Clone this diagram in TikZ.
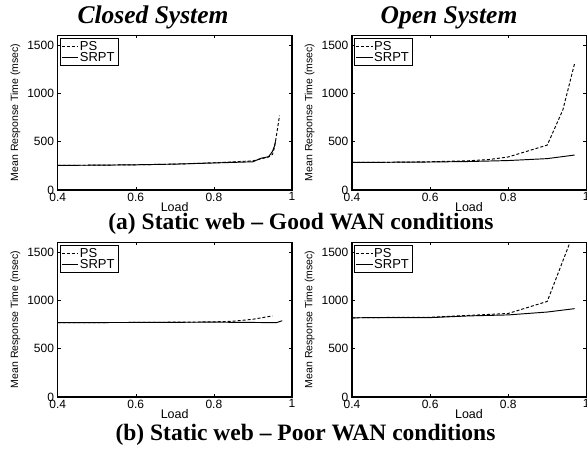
\documentclass[tikz,border=0pt]{standalone}
\usepackage{fontspec}
\setmainfont{Liberation Serif}
\setsansfont{Liberation Sans}
\newcommand\plotpanel[5]{%
  \begin{scope}
    \clip (#2,#3) rectangle ++(234.3,-154.5);
    \begin{scope}[shift={(#2-156.2,#3)}, x=390.5pt, y=0.09656pt]
      \draw[psline] plot coordinates {#4};
      \draw[srptline] plot coordinates {#5};
    \end{scope}
  \end{scope}
  \draw[axbox] (#2,#3) rectangle ++(234.3,-154.5);
  \foreach \t in {0.6,0.8} {
    \draw[tickmark] ({#2+390.5*(\t-0.4)},#3) -- ++(0,-3);
    \draw[tickmark] ({#2+390.5*(\t-0.4)},#3-154.5) -- ++(0,3);
  }
  \foreach \v in {500,1000,1500} {
    \draw[tickmark] (#2,{#3-0.09656*\v}) -- ++(3,0);
    \draw[tickmark] (#2+234.3,{#3-0.09656*\v}) -- ++(-3,0);
  }
  \foreach \t/\n in {0.4/a,0.6/b,0.8/c,1/d} {
    \node[ticklab, anchor=north] (#1x\n) at ({#2+390.5*(\t-0.4)},#3+2.5) {\t};
  }
  \foreach \v in {0,500,1000,1500} {
    \node[ticklab, anchor=east] (#1y\v) at (#2-3.5,{#3-0.09656*\v}) {\v};
  }
  \node[ylab] (#1ylab) at (#2-42.3,#3-77.5) {Mean Response Time (msec)};
  \node[xlab] (#1xlab) at (#2+117,#3+16.8) {Load};
  \draw[legbox] (#2+2.5,#3-151.7) rectangle (#2+60.5,#3-124.5);
  \draw[psline] (#2+4,#3-144) -- (#2+20.5,#3-144);
  \draw[srptline] (#2+4,#3-132.5) -- (#2+20.5,#3-132.5);
  \node[legtext] (#1lps) at (#2+22,#3-144) {PS};
  \node[legtext] (#1lsrpt) at (#2+22,#3-132.5) {SRPT};
}
\begin{document}
\begin{tikzpicture}[x=1pt,y=-1pt,
  axbox/.style={line width=1.3pt},
  tickmark/.style={line width=0.6pt},
  ticklab/.style={font=\sffamily\fontsize{12}{12}\selectfont, inner sep=0pt},
  ylab/.style={font=\sffamily\fontsize{10.5}{10.5}\selectfont, rotate=90, inner sep=0pt},
  xlab/.style={font=\sffamily\fontsize{12.5}{12.5}\selectfont, inner sep=0pt},
  legbox/.style={draw, line width=1.2pt, fill=white},
  legtext/.style={font=\sffamily\fontsize{13}{13}\selectfont, inner sep=0pt, anchor=west},
  psline/.style={line width=0.95pt, dash pattern=on 3pt off 2pt},
  srptline/.style={line width=0.95pt},
  titletext/.style={font=\fontsize{25.5}{25.5}\selectfont\bfseries\itshape, inner sep=0pt, anchor=base},
  captext/.style={font=\fontsize{23.5}{23.5}\selectfont\bfseries, inner sep=0pt, anchor=base}
]
\useasboundingbox[fill=white] (0,0) rectangle (587,457);

\node[titletext] (t1) at (153,23.3) {Closed System};
\node[titletext] (t2) at (449,23.3) {Open System};

\plotpanel{A}{57.7}{190}%
  {(0.4,255) (0.5,257) (0.6,261) (0.7,268) (0.8,282) (0.9,302) (0.92,322) (0.94,342) (0.95,368) (0.955,440) (0.96,560) (0.965,690) (0.968,770)}%
  {(0.4,255) (0.5,257) (0.6,261) (0.7,268) (0.8,280) (0.9,292) (0.92,328) (0.94,345) (0.95,400) (0.955,455) (0.958,505)}

\plotpanel{B}{352}{190}%
  {(0.4,285) (0.5,287) (0.6,292) (0.7,303) (0.75,315) (0.8,342) (0.9,465) (0.94,830) (0.97,1310)}%
  {(0.4,285) (0.6,290) (0.7,295) (0.8,305) (0.9,325) (0.97,362)}

\plotpanel{C}{57.7}{397}%
  {(0.4,770) (0.6,772) (0.7,775) (0.8,778) (0.85,785) (0.9,805) (0.95,840)}%
  {(0.4,770) (0.6,772) (0.8,775) (0.9,772) (0.96,770) (0.975,790)}

\plotpanel{D}{352}{397}%
  {(0.4,820) (0.5,824) (0.6,826) (0.7,845) (0.8,865) (0.9,990) (0.96,1620)}%
  {(0.4,820) (0.5,823) (0.6,822) (0.7,840) (0.8,850) (0.9,880) (0.97,915)}

\node[captext] (capa) at (301,229.5) {(a) Static web – Good WAN conditions};
\node[captext] (capb) at (305.5,440) {(b) Static web – Poor WAN conditions};
\end{tikzpicture}
\end{document}
